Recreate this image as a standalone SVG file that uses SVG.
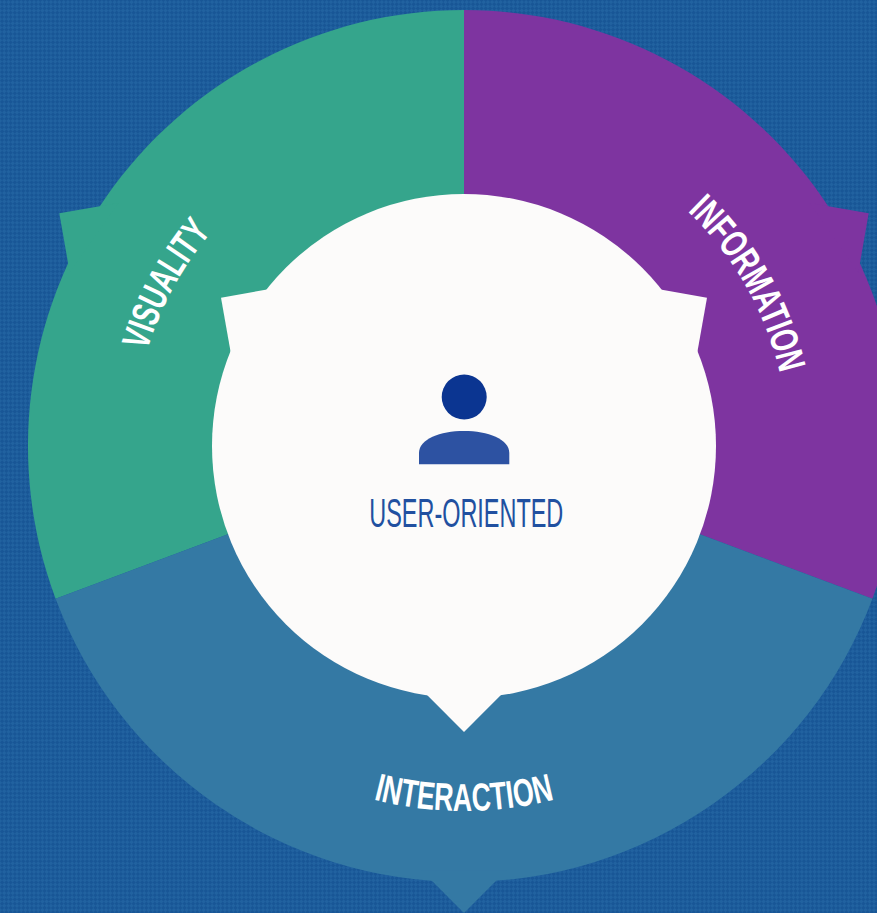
<svg xmlns="http://www.w3.org/2000/svg" width="877" height="913" viewBox="0 0 877 913">
  <defs>
    <pattern id="tex" width="6" height="6" patternUnits="userSpaceOnUse" patternTransform="rotate(45)">
      <rect width="6" height="6" fill="#185696"/>
      <rect width="3" height="3" fill="#2162a0"/>
      <rect x="3" y="3" width="3" height="3" fill="#2162a0"/>
    </pattern>
    <path id="arcVis" d="M181.8,618.9 A331,331 0 0 1 455.3,115.1"/>
    <path id="arcInfo" d="M465.7,122 A324,324 0 0 1 743.7,609.5"/>
    <path id="arcInt" d="M229.4,725.6 A365,365 0 0 0 698.6,725.6"/>
    <style>
      .lbl { font-family: "Liberation Sans Narrow", "Liberation Sans", Arial, sans-serif; font-size: 39px; font-weight: bold; fill: #ffffff; text-anchor: middle; }
      .center-lbl { font-family: "Liberation Sans Narrow", "Liberation Sans", Arial, sans-serif; font-size: 40px; fill: #2150a0; text-anchor: middle; }
    </style>
  </defs>

  <g id="background">
    <rect width="877" height="913" fill="url(#tex)"/>
  </g>

  <g id="node-visuality">
    <path d="M464,446 L55.6,598.7 A436,436 0 0 1 464,10 Z" fill="#35a58c"/>
    <path d="M59.3,213.3 L118.4,202.9 L69.7,272.4 Z" fill="#35a58c"/>
  </g>
  <g id="node-information">
    <path d="M464,446 L464,10 A436,436 0 0 1 872.4,598.7 Z" fill="#7e34a0"/>
    <path d="M868.7,213.3 L809.6,202.9 L858.3,272.4 Z" fill="#7e34a0"/>
  </g>
  <g id="node-interaction">
    <path d="M464,446 L872.4,598.7 A436,436 0 0 1 55.6,598.7 Z" fill="#3479a4"/>
    <path d="M464,913 L421.6,870.6 L506.4,870.6 Z" fill="#3479a4"/>
  </g>

  <g id="node-center">
    <circle cx="464" cy="446" r="252" fill="#fcfbfa"/>
    <path d="M221,297.7 L289.9,285.5 L233.2,366.6 Z" fill="#fcfbfa"/>
    <path d="M707,297.7 L638.1,285.5 L694.8,366.6 Z" fill="#fcfbfa"/>
    <path d="M464,732 L421.6,689.6 L506.4,689.6 Z" fill="#fcfbfa"/>
    <circle cx="464.2" cy="397" r="22.5" fill="#0b3591"/>
    <path d="M419,464.3 L419,453 C419,439 440,431 464,431 C488,431 509.3,439 509.3,453 L509.3,464.3 Z" fill="#2d52a2"/>
    <text class="center-lbl" x="466.3" y="527" textLength="194" lengthAdjust="spacingAndGlyphs">USER-ORIENTED</text>
  </g>

  <g id="labels">
    <text class="lbl"><textPath href="#arcVis" startOffset="50%" textLength="136" lengthAdjust="spacingAndGlyphs">VISUALITY</textPath></text>
    <text class="lbl"><textPath href="#arcInfo" startOffset="50%" textLength="189" lengthAdjust="spacingAndGlyphs">INFORMATION</textPath></text>
    <text class="lbl"><textPath href="#arcInt" startOffset="50%" textLength="183" lengthAdjust="spacingAndGlyphs">INTERACTION</textPath></text>
  </g>

  <g id="connectors"/>
</svg>
